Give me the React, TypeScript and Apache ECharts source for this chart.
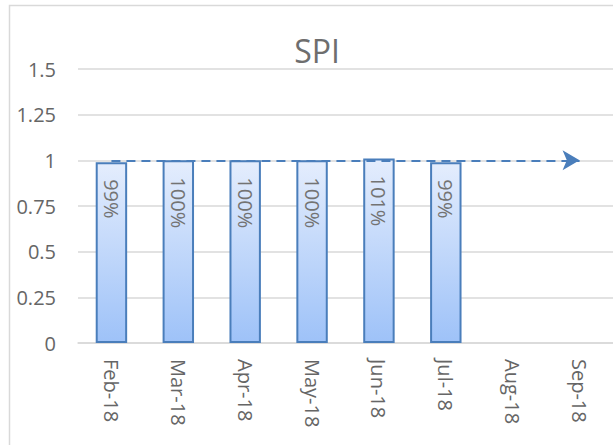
import React, { useEffect, useRef } from "react";
import * as echarts from "echarts";

const categories = ["Feb-18", "Mar-18", "Apr-18", "May-18", "Jun-18", "Jul-18", "Aug-18", "Sep-18"];
const spiValues = [0.99, 1.0, 1.0, 1.0, 1.01, 0.99];
const targetValue = 1;
const yTicks = { min: 0, max: 1.5, interval: 0.25 };

const FONT = "'Open Sans', 'Noto Sans', sans-serif";
const TEXT = "#666666";
const GRID = "#d9d9d9";

export default function App() {
  const ref = useRef<HTMLDivElement>(null);
  useEffect(() => {
    if (!ref.current) return;
    const chart = echarts.init(ref.current, undefined, { renderer: "svg" });
    chart.setOption({
      animation: false,
      backgroundColor: "#ffffff",
      title: {
        text: "SPI",
        left: 312,
        top: 29,
        textAlign: "center",
        textStyle: { fontFamily: FONT, fontSize: 32, fontWeight: "normal", color: "#6e6e6e" },
      },
      graphic: [
        {
          type: "rect",
          shape: { x: 9.5, y: 5.5, width: 700, height: 500 },
          style: { fill: "none", stroke: GRID, lineWidth: 1.5 },
          silent: true,
        },
      ],
      grid: { left: 78, top: 69, width: 536, height: 274, containLabel: false },
      xAxis: {
        type: "category",
        data: categories,
        boundaryGap: true,
        axisTick: { show: false },
        axisLine: { show: true, lineStyle: { color: GRID, width: 1.5 } },
        axisLabel: {
          rotate: -90,
          margin: 16,
          fontFamily: FONT,
          fontSize: 20,
          color: TEXT,
          interval: 0,
        },
      },
      yAxis: {
        type: "value",
        min: yTicks.min,
        max: yTicks.max,
        interval: yTicks.interval,
        axisLine: { show: false },
        axisTick: { show: false },
        splitLine: { lineStyle: { color: GRID, width: 1.5 } },
        axisLabel: { margin: 22, fontFamily: FONT, fontSize: 20, color: TEXT },
      },
      series: [
        {
          type: "bar",
          data: spiValues,
          barWidth: "47%",
          itemStyle: {
            color: new echarts.graphic.LinearGradient(0, 0, 0, 1, [
              { offset: 0, color: "#e4edfd" },
              { offset: 1, color: "#9ec2f8" },
            ]),
            borderColor: "#4a7ebb",
            borderWidth: 2,
          },
          label: {
            show: true,
            position: "insideTop",
            distance: 17,
            rotate: -90,
            align: "left",
            verticalAlign: "middle",
            fontFamily: FONT,
            fontSize: 20,
            color: "#737373",
            formatter: (p: any) => Math.round(p.value * 100) + "%",
          },
          markLine: {
            silent: true,
            symbol: ["none", "arrow"],
            symbolSize: [15, 17],
            label: { show: false },
            lineStyle: { color: "#4a7ebb", width: 2, type: [9, 6] },
            data: [
              [
                { coord: [categories[0], targetValue] },
                { coord: [categories[categories.length - 1], targetValue] },
              ],
            ],
          },
        },
      ],
    });
    return () => chart.dispose();
  }, []);
  return (
    <div
      ref={ref}
      style={{ position: "fixed", left: 0, top: 0, width: 613, height: 445 }}
    />
  );
}
